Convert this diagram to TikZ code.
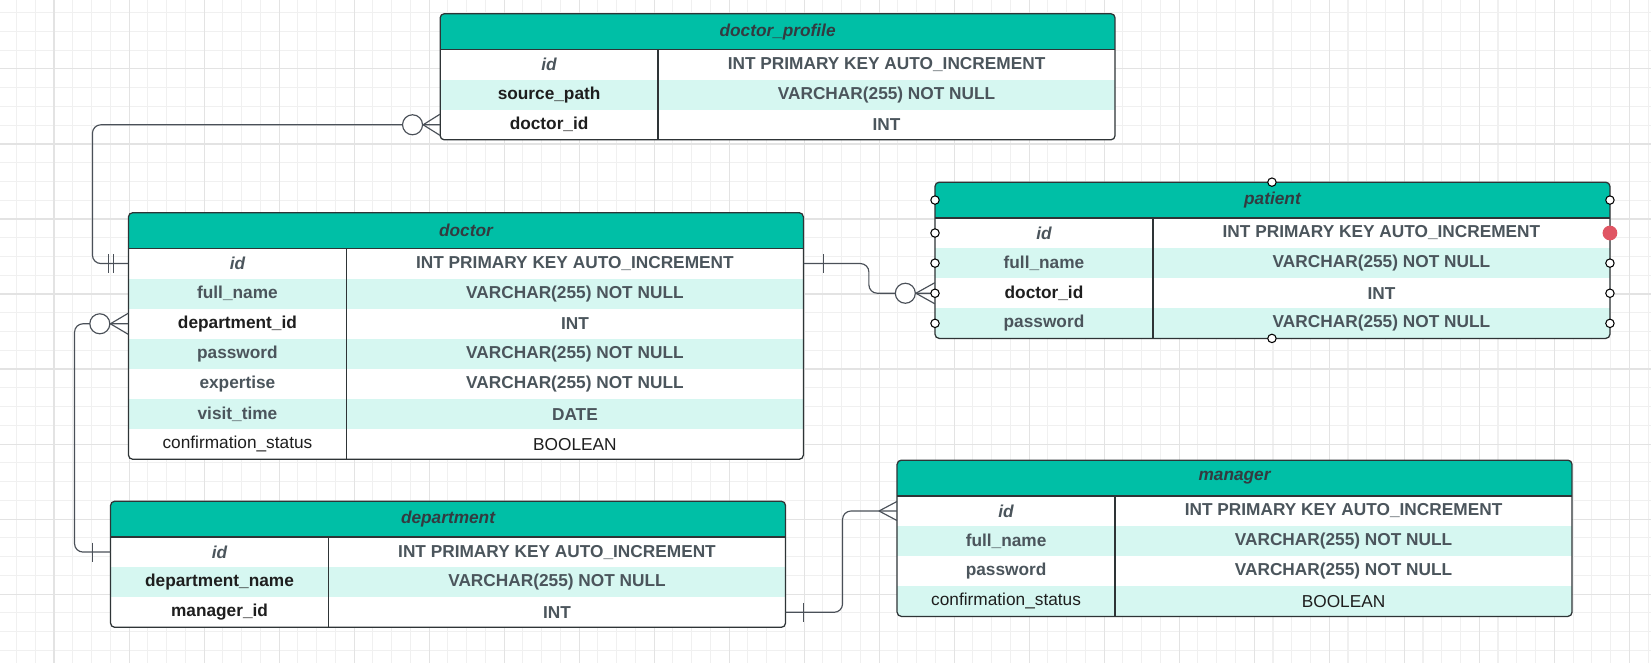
\documentclass[tikz,border=0pt]{standalone}
\usepackage{fontspec}
\setmainfont{Liberation Sans}

\definecolor{hdrteal}{HTML}{00BFA6}
\definecolor{mint}{HTML}{D6F7F1}
\definecolor{graytext}{HTML}{4B555C}
\definecolor{darktext}{HTML}{1E1E1E}
\definecolor{titletext}{HTML}{333B40}
\definecolor{boxline}{HTML}{2E3436}
\definecolor{relline}{HTML}{4A5058}
\definecolor{gridlight}{HTML}{F0F0F0}
\definecolor{griddark}{HTML}{E3E3E3}
\definecolor{handlered}{HTML}{E05563}

\tikzset{
	gridminor/.style={draw=gridlight, line width=1pt},
	gridmajor/.style={draw=griddark, line width=1pt},
	tablebox/.style={draw=boxline, line width=1.2pt, rounded corners=4pt},
	rule/.style={draw=boxline, line width=1.2pt},
	tabletitle/.style={font=\fontsize{16.4}{19}\selectfont\bfseries\itshape, text=titletext},
	namecell/.style={minimum width=207pt, minimum height=28.6pt, inner sep=0pt},
	typecell/.style={minimum width=434pt, minimum height=28.6pt, inner sep=0pt},
	idf/.style={font=\fontsize{16.4}{19}\selectfont\bfseries\itshape, text=graytext},
	fld/.style={font=\fontsize{16.4}{19}\selectfont\bfseries, text=graytext},
	fkey/.style={font=\fontsize{16.4}{19}\selectfont\bfseries, text=darktext},
	pln/.style={font=\fontsize{16.4}{19}\selectfont, text=darktext},
	typ/.style={font=\fontsize{16.4}{19}\selectfont\bfseries, text=graytext},
	rel/.style={draw=relline, line width=1.1pt},
	zero/.style={circle, draw=relline, line width=1.1pt, fill=white, minimum size=19pt, inner sep=0pt},
	handle/.style={draw=black, fill=white, line width=1pt},
}

\begin{document}
\begin{tikzpicture}[x=1pt, y=-1pt]
	\useasboundingbox (0,0) rectangle (1568,630);
	\fill[white] (0,0) rectangle (1568,630);
	
	% grid
	\foreach \k in {0,...,87}
	\draw[gridminor] ({15.7+\k*17.81},0) -- ({15.7+\k*17.81},630);
	\foreach \k in {0,...,34}
	\draw[gridminor] (0,{12.07+\k*17.81}) -- (1568,{12.07+\k*17.81});
	\foreach \k in {0,...,21}
	\draw[gridmajor] ({51.3+\k*71.24},0) -- ({51.3+\k*71.24},630);
	\foreach \k in {0,...,7}
	\draw[gridmajor] (0,{65.5+\k*71.24}) -- (1568,{65.5+\k*71.24});
	
	% doctor_profile
	\begin{scope}[shift={(418,13)}]
		\begin{scope}
			\clip[rounded corners=4pt] (0,0) rectangle (641,119.8);
			\fill[white] (0,0) rectangle (641,119.8);
			\fill[hdrteal] (0,0) rectangle (641,34);
			\fill[mint] (0,62.6) rectangle (641,91.2);
		\end{scope}
		\draw[rule] (0,34) -- (641,34);
		\draw[rule] (207,34) -- (207,119.8);
		\draw[tablebox] (0,0) rectangle (641,119.8);
		\node[tabletitle] (dp) at (320.5,17) {doctor\_profile};
		\foreach \i/\fn/\fs/\ty/\ts in {1/id/idf/INT PRIMARY KEY AUTO\_INCREMENT/typ,
			2/source\_path/fkey/VARCHAR(255) NOT NULL/typ,
			3/doctor\_id/fkey/INT/typ}
		{
			\node[namecell, \fs] (dp-\i) at (103.5,{34+(\i-0.5)*28.6}) {\fn};
			\node[typecell, \ts] (dpt-\i) at (424,{34+(\i-0.5)*28.6}) {\ty};
		}
	\end{scope}
	
	% doctor
	\begin{scope}[shift={(122,202)}]
		\begin{scope}
			\clip[rounded corners=4pt] (0,0) rectangle (641,234.2);
			\fill[white] (0,0) rectangle (641,234.2);
			\fill[hdrteal] (0,0) rectangle (641,34);
			\foreach \r in {2,4,6}
			\fill[mint] (0,{34+(\r-1)*28.6}) rectangle (641,{34+\r*28.6});
		\end{scope}
		\draw[rule] (0,34) -- (641,34);
		\draw[rule] (207,34) -- (207,234.2);
		\draw[tablebox] (0,0) rectangle (641,234.2);
		\node[tabletitle] (doc) at (320.5,17) {doctor};
		\foreach \i/\fn/\fs/\ty/\ts in {1/id/idf/INT PRIMARY KEY AUTO\_INCREMENT/typ,
			2/full\_name/fld/VARCHAR(255) NOT NULL/typ,
			3/department\_id/fkey/INT/typ,
			4/password/fld/VARCHAR(255) NOT NULL/typ,
			5/expertise/fld/VARCHAR(255) NOT NULL/typ,
			6/visit\_time/fld/DATE/typ,
			7/confirmation\_status/pln/BOOLEAN/pln}
		{
			\node[namecell, \fs] (doc-\i) at (103.5,{34+(\i-0.5)*28.6}) {\fn};
			\node[typecell, \ts] (doct-\i) at (424,{34+(\i-0.5)*28.6}) {\ty};
		}
	\end{scope}
	
	% patient
	\begin{scope}[shift={(888,173)}]
		\begin{scope}
			\clip[rounded corners=4pt] (0,0) rectangle (641,148.4);
			\fill[white] (0,0) rectangle (641,148.4);
			\fill[hdrteal] (0,0) rectangle (641,34);
			\foreach \r in {2,4}
			\fill[mint] (0,{34+(\r-1)*28.6}) rectangle (641,{34+\r*28.6});
		\end{scope}
		\draw[rule] (0,34) -- (641,34);
		\draw[rule] (207,34) -- (207,148.4);
		\draw[tablebox] (0,0) rectangle (641,148.4);
		\node[tabletitle] (pat) at (320.5,17) {patient};
		\foreach \i/\fn/\fs/\ty/\ts in {1/id/idf/INT PRIMARY KEY AUTO\_INCREMENT/typ,
			2/full\_name/fld/VARCHAR(255) NOT NULL/typ,
			3/doctor\_id/fkey/INT/typ,
			4/password/fld/VARCHAR(255) NOT NULL/typ}
		{
			\node[namecell, \fs] (pat-\i) at (103.5,{34+(\i-0.5)*28.6}) {\fn};
			\node[typecell, \ts] (patt-\i) at (424,{34+(\i-0.5)*28.6}) {\ty};
		}
	\end{scope}
	
	% department
	\begin{scope}[shift={(105,476)}]
		\begin{scope}
			\clip[rounded corners=4pt] (0,0) rectangle (641,119.8);
			\fill[white] (0,0) rectangle (641,119.8);
			\fill[hdrteal] (0,0) rectangle (641,34);
			\fill[mint] (0,62.6) rectangle (641,91.2);
		\end{scope}
		\draw[rule] (0,34) -- (641,34);
		\draw[rule] (207,34) -- (207,119.8);
		\draw[tablebox] (0,0) rectangle (641,119.8);
		\node[tabletitle] (dep) at (320.5,17) {department};
		\foreach \i/\fn/\fs/\ty/\ts in {1/id/idf/INT PRIMARY KEY AUTO\_INCREMENT/typ,
			2/department\_name/fkey/VARCHAR(255) NOT NULL/typ,
			3/manager\_id/fkey/INT/typ}
		{
			\node[namecell, \fs] (dep-\i) at (103.5,{34+(\i-0.5)*28.6}) {\fn};
			\node[typecell, \ts] (dept-\i) at (424,{34+(\i-0.5)*28.6}) {\ty};
		}
	\end{scope}
	
	% manager
	\begin{scope}[shift={(852,437)}]
		\begin{scope}
			\clip[rounded corners=4pt] (0,0) rectangle (641,148.4);
			\fill[white] (0,0) rectangle (641,148.4);
			\fill[hdrteal] (0,0) rectangle (641,34);
			\foreach \r in {2,4}
			\fill[mint] (0,{34+(\r-1)*28.6}) rectangle (641,{34+\r*28.6});
		\end{scope}
		\draw[rule] (0,34) -- (641,34);
		\draw[rule] (207,34) -- (207,148.4);
		\draw[tablebox] (0,0) rectangle (641,148.4);
		\node[tabletitle] (man) at (320.5,17) {manager};
		\foreach \i/\fn/\fs/\ty/\ts in {1/id/idf/INT PRIMARY KEY AUTO\_INCREMENT/typ,
			2/full\_name/fld/VARCHAR(255) NOT NULL/typ,
			3/password/fld/VARCHAR(255) NOT NULL/typ,
			4/confirmation\_status/pln/BOOLEAN/pln}
		{
			\node[namecell, \fs] (man-\i) at (103.5,{34+(\i-0.5)*28.6}) {\fn};
			\node[typecell, \ts] (mant-\i) at (424,{34+(\i-0.5)*28.6}) {\ty};
		}
	\end{scope}
	
	% doctor_profile -- doctor
	\draw[rel, rounded corners=8pt] (dp-3.west) -| ([xshift=-34pt]doc-1.west) -- (doc-1.west);
	\node[zero] (z1) at ([xshift=-26pt]dp-3.west) {};
	\draw[rel] (z1.east) -- ([yshift=10pt]dp-3.west);
	\draw[rel] (z1.east) -- ([yshift=-10pt]dp-3.west);
	\draw[rel] ([xshift=-19pt]doc-1.west) ++(0,-9) -- ++(0,18);
	\draw[rel] ([xshift=-14pt]doc-1.west) ++(0,-9) -- ++(0,18);
	
	% doctor -- patient
	\draw[rel, rounded corners=8pt] (doct-1.east) -- ++(62,0) |- (pat-3.west);
	\node[zero] (z2) at ([xshift=-28pt]pat-3.west) {};
	\draw[rel] (z2.east) -- ([yshift=10pt]pat-3.west);
	\draw[rel] (z2.east) -- ([yshift=-10pt]pat-3.west);
	\draw[rel] ([xshift=19pt]doct-1.east) ++(0,-9) -- ++(0,18);
	
	% doctor -- department
	\draw[rel, rounded corners=8pt] (doc-3.west) -| ([xshift=-34pt]dep-1.west) -- (dep-1.west);
	\node[zero] (z3) at ([xshift=-27pt]doc-3.west) {};
	\draw[rel] (z3.east) -- ([yshift=10pt]doc-3.west);
	\draw[rel] (z3.east) -- ([yshift=-10pt]doc-3.west);
	\draw[rel] ([xshift=-17pt]dep-1.west) ++(0,-9) -- ++(0,18);
	
	% department -- manager
	\draw[rel, rounded corners=8pt] (dept-3.east) -- ++(54,0) |- (man-1.west);
	\draw[rel] ([xshift=-17pt]man-1.west) -- ([yshift=9pt]man-1.west);
	\draw[rel] ([xshift=-17pt]man-1.west) -- ([yshift=-9pt]man-1.west);
	\draw[rel] ([xshift=17pt]dept-3.east) ++(0,-9) -- ++(0,18);
	
	% selection handles on patient
	\foreach \y in {190,221.3,249.9,278.5,307.1}
	\draw[handle] (888,\y) circle[radius=4];
	\foreach \y in {190,249.9,278.5,307.1}
	\draw[handle] (1529,\y) circle[radius=4];
	\fill[handlered] (1529,221.3) circle[radius=7];
	\draw[handle] (1208,173) circle[radius=4];
	\draw[handle] (1208,321.4) circle[radius=4];
\end{tikzpicture}
\end{document}
